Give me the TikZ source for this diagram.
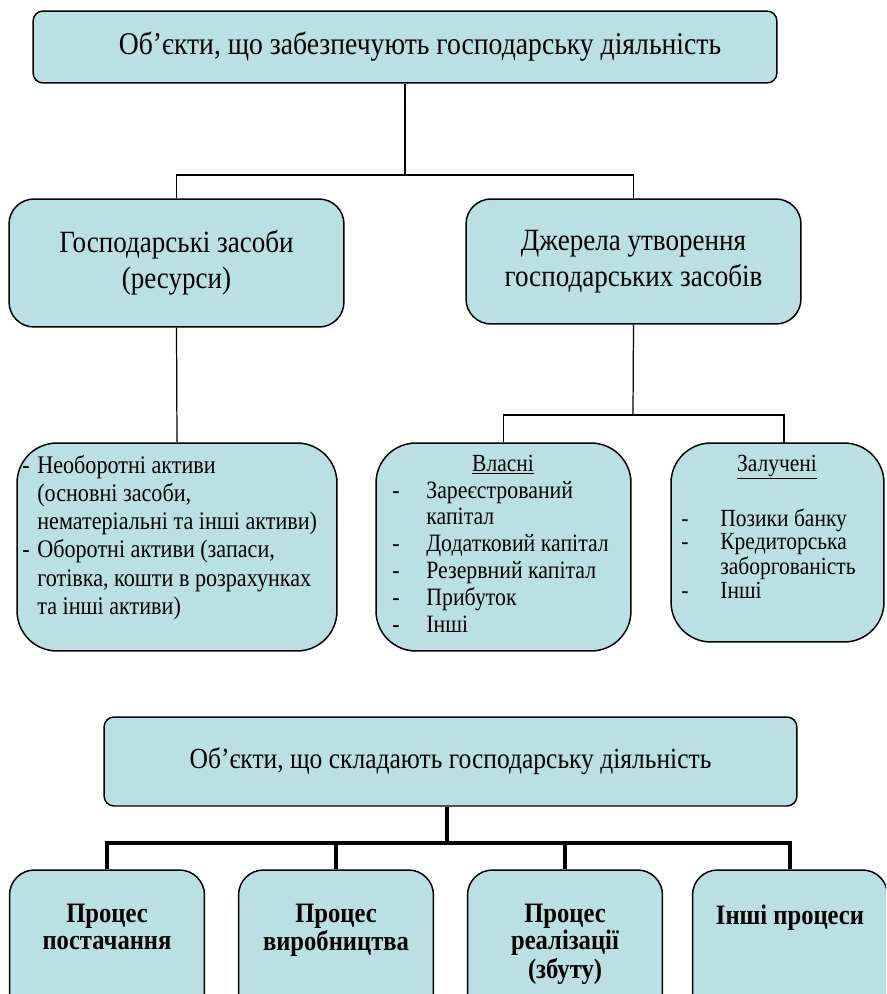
\documentclass[tikz,border=0pt]{standalone}
\usepackage{fontspec}
\setmainfont[FakeStretch=0.875]{Liberation Serif}
\usetikzlibrary{positioning}

\definecolor{boxfill}{HTML}{BBE0E3}

\tikzset{
  objbox/.style={draw, fill=boxfill, line width=0.85pt, inner sep=0pt, align=center,
    font=\fontsize{17.6}{20.5}\selectfont},
  listbox/.style={draw, fill=boxfill, line width=0.85pt, rounded corners=0.8cm, inner sep=0pt},
  listtext/.style={inner sep=0pt, anchor=base west},
  listhead/.style={inner sep=0pt, anchor=base, font=\fontsize{14}{15}\selectfont},
  procbox/.style={draw, fill=boxfill, line width=0.85pt, rounded corners=0.5cm, inner sep=0pt,
    minimum width=3.9cm, minimum height=3.2cm},
  proctext/.style={inner sep=0pt, anchor=base, font=\bfseries\fontsize{16}{15.6}\selectfont},
  link/.style={line width=0.7pt},
  boldlink/.style={line width=2.5pt, line join=miter}
}

\begin{document}
\begin{tikzpicture}[x=0.02cm,y=-0.02cm]
  % Page frame
  \useasboundingbox (0,0) rectangle (886,994);
  \clip (0,0) rectangle (886,994);

  % Upper tree: root and its two branches
  \node[objbox, minimum width=14.88cm, minimum height=1.44cm, rounded corners=0.2cm,
    font=\fontsize{18}{20.5}\selectfont] (top) at (405,47)
    {\hspace*{0.6cm}Об’єкти, що забезпечують господарську діяльність};
  \node[objbox, minimum width=6.7cm, minimum height=2.56cm, rounded corners=0.5cm] (res) at (176.5,263)
    {Господарські засоби\\(ресурси)};
  \node[objbox, minimum width=6.7cm, minimum height=2.5cm, rounded corners=0.5cm] (src) at (633.5,261.5)
    {Джерела утворення\\господарських засобів};

  % Lower row of the upper tree
  \node[listbox, minimum width=6.4cm, minimum height=4.16cm] (act) at (177,547) {};
  \node[listbox, minimum width=5.1cm, minimum height=4.16cm] (own) at (503.5,547) {};
  \node[listbox, minimum width=4.26cm, minimum height=3.98cm] (brw) at (777.5,542.5) {};

  % Texts of the lower row
  \node[listtext] (acttext) at (22,473) {\fontsize{14.4}{16.1}\selectfont
    \begin{tabular}[t]{@{}p{0.3cm}@{}l@{}}
      - & Необоротні активи\\
        & (основні засоби,\\
        & нематеріальні та інші активи)\\
      - & Оборотні активи (запаси,\\
        & готівка, кошти в розрахунках\\
        & та інші активи)
    \end{tabular}};
  \node[listhead] (ownhead) at (503,471) {\underline{Власні}};
  \node[listtext] (owntext) at (392,498) {\fontsize{14.2}{15.3}\selectfont
    \begin{tabular}[t]{@{}p{0.68cm}@{}l@{}}
      - & Зареєстрований\\
        & капітал\\
      - & Додатковий капітал\\
      - & Резервний капітал\\
      - & Прибуток\\
      - & Інші
    \end{tabular}};
  \node[listhead] (brwhead) at (777,471) {\underline{Залучені}};
  \node[listtext] (brwtext) at (681,526) {\fontsize{14}{13.6}\selectfont
    \begin{tabular}[t]{@{}p{0.78cm}@{}l@{}}
      - & Позики банку\\
      - & Кредиторська\\
        & заборгованість\\
      - & Інші
    \end{tabular}};

  % Connectors of the upper tree
  \coordinate (j1) at (405,175);
  \coordinate (j2) at (633,415);
  \coordinate (brwtop) at (784,443);
  \draw[link] (top.south) -- (j1);
  \draw[link] (res.north) |- (j1) -| (src.north);
  \draw[link] (res.south) -- (act.north);
  \draw[link] (src.south) -- (j2);
  \draw[link] (own.north) |- (j2) -| (brwtop);

  % Lower tree: objects that make up economic activity
  \node[objbox, minimum width=13.86cm, minimum height=1.78cm, rounded corners=0.2cm,
    font=\fontsize{16.6}{20}\selectfont] (top2) at (450.5,761.5)
    {Об’єкти, що складають господарську діяльність};
  \node[procbox] (p1) at (107,950) {};
  \node[procbox] (p2) at (336,950) {};
  \node[procbox] (p3) at (565,950) {};
  \node[procbox] (p4) at (790,950) {};
  \node[proctext] (p1text) at (107,922) {\begin{tabular}[t]{@{}c@{}}Процес\\постачання\end{tabular}};
  \node[proctext] (p2text) at (336,922) {\begin{tabular}[t]{@{}c@{}}Процес\\виробництва\end{tabular}};
  \node[proctext] (p3text) at (565,922) {\begin{tabular}[t]{@{}c@{}}Процес\\реалізації\\(збуту)\end{tabular}};
  \node[proctext] (p4text) at (790,924) {Інші процеси};

  % Thick connectors of the lower tree
  \coordinate (j3) at (447,843);
  \draw[boldlink] (top2.south -| j3) -- (j3);
  \draw[boldlink] (p1.north) |- (j3) -| (p4.north);
  \draw[boldlink] (p2.north) -- (p2.north |- j3);
  \draw[boldlink] (p3.north) -- (p3.north |- j3);
\end{tikzpicture}
\end{document}
